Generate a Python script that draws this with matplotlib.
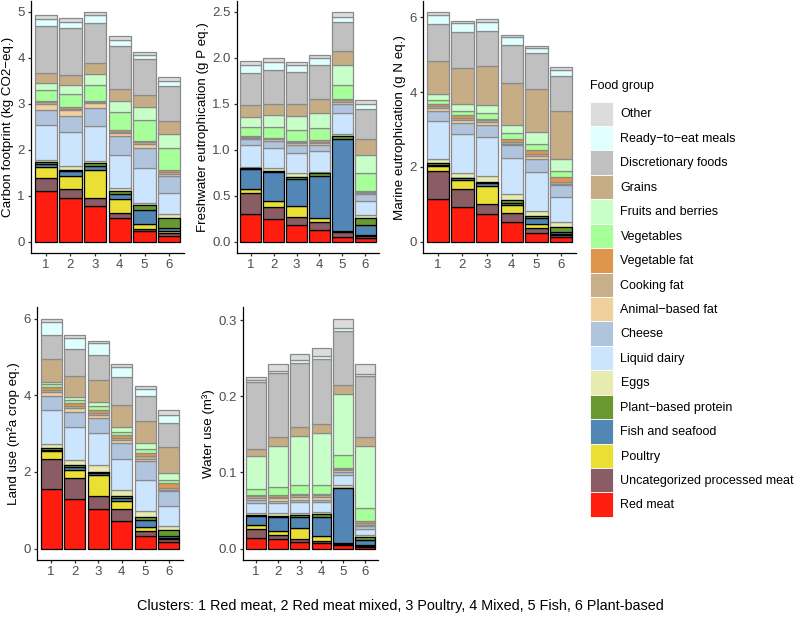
import numpy as np
import matplotlib.pyplot as plt
from matplotlib.patches import Patch

plt.rcParams["font.family"] = ["Liberation Sans", "DejaVu Sans"]

# stacking order, bottom to top
groups = [
    "Red meat", "Uncategorized processed meat", "Poultry", "Fish and seafood",
    "Plant\u2212based protein", "Eggs", "Liquid dairy", "Cheese", "Animal\u2212based fat",
    "Cooking fat", "Vegetable fat", "Vegetables", "Fruits and berries", "Grains",
    "Discretionary foods", "Ready\u2212to\u2212eat meals", "Other",
]
colors = [
    "#FF1D0F", "#8A5D65", "#EADF35", "#5286B5", "#6A9830", "#E7EBAF", "#CCE5FF",
    "#B0C4DE", "#F0D09C", "#C9B08C", "#E0954D", "#A6FF98", "#C8FFC8", "#C7AD86",
    "#C0C0C0", "#E0FFFF", "#DCDCDC",
]
edges = ["black"] * 5 + ["#8A8A8A"] * 12

clusters = ["1", "2", "3", "4", "5", "6"]

# rows: clusters 1..6, columns: groups in stacking order
carbon = [
    [1.11, 0.28, 0.23, 0.06, 0.05, 0.05, 0.76, 0.33, 0.13, 0.03, 0.03, 0.24, 0.16, 0.22, 1.02, 0.14, 0.09],
    [0.94, 0.21, 0.27, 0.11, 0.02, 0.09, 0.74, 0.36, 0.13, 0.02, 0.03, 0.30, 0.20, 0.21, 1.02, 0.13, 0.08],
    [0.77, 0.17, 0.61, 0.09, 0.07, 0.05, 0.75, 0.39, 0.11, 0.04, 0.01, 0.36, 0.22, 0.24, 0.89, 0.16, 0.06],
    [0.52, 0.11, 0.29, 0.11, 0.08, 0.06, 0.72, 0.40, 0.07, 0.02, 0.04, 0.41, 0.23, 0.27, 0.93, 0.13, 0.09],
    [0.23, 0.05, 0.11, 0.29, 0.11, 0.06, 0.75, 0.44, 0.09, 0.03, 0.03, 0.46, 0.29, 0.25, 0.78, 0.09, 0.07],
    [0.12, 0.06, 0.04, 0.07, 0.23, 0.07, 0.47, 0.36, 0.06, 0.03, 0.04, 0.49, 0.31, 0.27, 0.77, 0.11, 0.09],
]
freshwater = [
    [0.30, 0.23, 0.04, 0.22, 0.01, 0.01, 0.24, 0.06, 0.02, 0.01, 0.01, 0.10, 0.10, 0.13, 0.35, 0.09, 0.04],
    [0.25, 0.13, 0.06, 0.32, 0.01, 0.03, 0.22, 0.07, 0.02, 0.01, 0.01, 0.11, 0.13, 0.13, 0.36, 0.09, 0.04],
    [0.18, 0.09, 0.12, 0.29, 0.02, 0.04, 0.22, 0.09, 0.02, 0.01, 0.01, 0.12, 0.15, 0.14, 0.34, 0.08, 0.03],
    [0.13, 0.08, 0.05, 0.45, 0.03, 0.02, 0.22, 0.07, 0.02, 0.01, 0.02, 0.13, 0.17, 0.15, 0.37, 0.08, 0.03],
    [0.05, 0.05, 0.02, 1.00, 0.03, 0.02, 0.23, 0.10, 0.02, 0.02, 0.01, 0.15, 0.22, 0.15, 0.32, 0.05, 0.05],
    [0.04, 0.02, 0.01, 0.11, 0.08, 0.03, 0.15, 0.08, 0.01, 0.01, 0.01, 0.19, 0.20, 0.18, 0.32, 0.06, 0.04],
]
marine = [
    [1.15, 0.73, 0.14, 0.04, 0.05, 0.10, 1.01, 0.26, 0.09, 0.05, 0.06, 0.12, 0.15, 0.89, 0.98, 0.24, 0.07],
    [0.93, 0.48, 0.23, 0.05, 0.02, 0.13, 1.04, 0.29, 0.09, 0.04, 0.08, 0.10, 0.20, 0.96, 0.96, 0.24, 0.06],
    [0.75, 0.26, 0.47, 0.09, 0.03, 0.15, 1.05, 0.33, 0.07, 0.04, 0.05, 0.15, 0.22, 1.04, 0.94, 0.24, 0.07],
    [0.52, 0.25, 0.20, 0.07, 0.06, 0.16, 0.98, 0.33, 0.05, 0.04, 0.09, 0.16, 0.22, 1.11, 1.02, 0.21, 0.06],
    [0.24, 0.11, 0.11, 0.18, 0.04, 0.14, 1.04, 0.35, 0.07, 0.05, 0.11, 0.18, 0.30, 1.16, 0.96, 0.13, 0.07],
    [0.11, 0.06, 0.04, 0.05, 0.13, 0.13, 0.67, 0.31, 0.04, 0.05, 0.14, 0.17, 0.31, 1.27, 0.94, 0.16, 0.10],
]
land = [
    [1.55, 0.80, 0.19, 0.04, 0.05, 0.11, 0.89, 0.36, 0.10, 0.06, 0.07, 0.07, 0.07, 0.58, 0.65, 0.33, 0.09],
    [1.29, 0.54, 0.23, 0.06, 0.06, 0.13, 0.87, 0.39, 0.11, 0.05, 0.08, 0.08, 0.07, 0.55, 0.69, 0.29, 0.08],
    [1.02, 0.35, 0.55, 0.06, 0.02, 0.18, 0.84, 0.39, 0.09, 0.05, 0.06, 0.11, 0.11, 0.57, 0.65, 0.31, 0.06],
    [0.72, 0.30, 0.22, 0.07, 0.06, 0.15, 0.81, 0.43, 0.07, 0.06, 0.07, 0.09, 0.13, 0.58, 0.73, 0.26, 0.07],
    [0.32, 0.14, 0.11, 0.17, 0.09, 0.15, 0.82, 0.49, 0.06, 0.06, 0.09, 0.10, 0.16, 0.58, 0.65, 0.17, 0.08],
    [0.17, 0.07, 0.04, 0.04, 0.16, 0.10, 0.53, 0.39, 0.04, 0.04, 0.12, 0.10, 0.18, 0.68, 0.62, 0.22, 0.11],
]
water = [
    [0.014, 0.012, 0.005, 0.012, 0.001, 0.003, 0.013, 0.004, 0.002, 0.003, 0.001, 0.008, 0.043, 0.010, 0.088, 0.002, 0.004],
    [0.012, 0.006, 0.005, 0.019, 0.001, 0.003, 0.014, 0.003, 0.003, 0.002, 0.002, 0.011, 0.053, 0.012, 0.084, 0.003, 0.009],
    [0.009, 0.004, 0.014, 0.015, 0.002, 0.003, 0.014, 0.003, 0.003, 0.003, 0.002, 0.012, 0.064, 0.012, 0.083, 0.004, 0.009],
    [0.007, 0.003, 0.006, 0.026, 0.003, 0.003, 0.013, 0.003, 0.003, 0.003, 0.001, 0.012, 0.069, 0.012, 0.085, 0.004, 0.010],
    [0.004, 0.002, 0.001, 0.072, 0.001, 0.003, 0.013, 0.005, 0.002, 0.002, 0.001, 0.017, 0.080, 0.012, 0.071, 0.003, 0.013],
    [0.002, 0.0015, 0.0005, 0.007, 0.004, 0.003, 0.008, 0.003, 0.002, 0.003, 0.002, 0.017, 0.081, 0.013, 0.079, 0.003, 0.013],
]

caption = "Clusters: 1 Red meat, 2 Red meat mixed, 3 Poultry, 4 Mixed, 5 Fish, 6 Plant-based"

W, H = 800, 625


def px_axes(fig, x0, x1, y0, y1):
    # pixel box (from top-left) -> figure fraction
    return fig.add_axes([x0 / W, 1 - y1 / H, (x1 - x0) / W, (y1 - y0) / H])


def draw_panel(ax, data, ylabel, yticks, fmt):
    vals = np.array(data)
    x = np.arange(1, len(clusters) + 1)
    bottom = np.zeros(len(clusters))
    for j in range(len(groups)):
        ax.bar(x, vals[:, j], bottom=bottom, width=0.9, color=colors[j],
               edgecolor=edges[j], linewidth=0.9, zorder=2 if j < 5 else 1)
        bottom += vals[:, j]
    top = bottom.max()
    ax.set_ylim(-0.05 * top, 1.05 * top)
    ax.set_xlim(0.4, 6.6)
    ax.set_xticks(x)
    ax.set_xticklabels(clusters)
    ax.set_yticks(yticks)
    ax.set_yticklabels([fmt.format(t) for t in yticks])
    ax.set_ylabel(ylabel, fontsize=9.6, labelpad=2.5)
    for s in ["top", "right"]:
        ax.spines[s].set_visible(False)
    for s in ["left", "bottom"]:
        ax.spines[s].set_linewidth(0.9)
    ax.tick_params(axis="both", labelsize=9.5, colors="#4D4D4D",
                   length=2.5, width=0.9, pad=2)
    ax.tick_params(axis="both", color="#333333")


fig = plt.figure(figsize=(W / 100, H / 100), dpi=100)

ax1 = px_axes(fig, 31, 184, 1, 253)
draw_panel(ax1, carbon, "Carbon footprint (kg CO2\u2212eq.)", [0, 1, 2, 3, 4, 5], "{:g}")
ax2 = px_axes(fig, 237, 379, 1, 253)
draw_panel(ax2, freshwater, "Freshwater eutrophication (g P eq.)",
           [0, 0.5, 1.0, 1.5, 2.0, 2.5], "{:.1f}")
ax3 = px_axes(fig, 423, 576, 1, 253)
draw_panel(ax3, marine, "Marine eutrophication (g N eq.)", [0, 2, 4, 6], "{:g}")
ax4 = px_axes(fig, 37, 183, 307, 560)
draw_panel(ax4, land, "Land use (m\u00b2a crop eq.)", [0, 2, 4, 6], "{:g}")
ax5 = px_axes(fig, 243, 378, 307, 560)
draw_panel(ax5, water, "Water use (m\u00b3)", [0, 0.1, 0.2, 0.3], "{:.1f}")

# legend: title drawn separately so keys sit right under it
fig.text(590 / W, 1 - 86.5 / H, "Food group", ha="left", va="center", fontsize=9)
handles = [Patch(facecolor=colors[j], edgecolor="white", linewidth=0.6, label=groups[j])
           for j in range(len(groups) - 1, -1, -1)]
fig.legend(handles=handles, loc="upper left",
           bbox_to_anchor=(590 / W, 1 - 101.5 / H), frameon=False, fontsize=9,
           handlelength=1.84, handleheight=2.63,
           labelspacing=0.0, handletextpad=0.6, borderpad=0, borderaxespad=0)

fig.text(0.5, 1 - 606 / H, caption, ha="center", va="center", fontsize=10.4)

fig.savefig("out.png", dpi=100)
